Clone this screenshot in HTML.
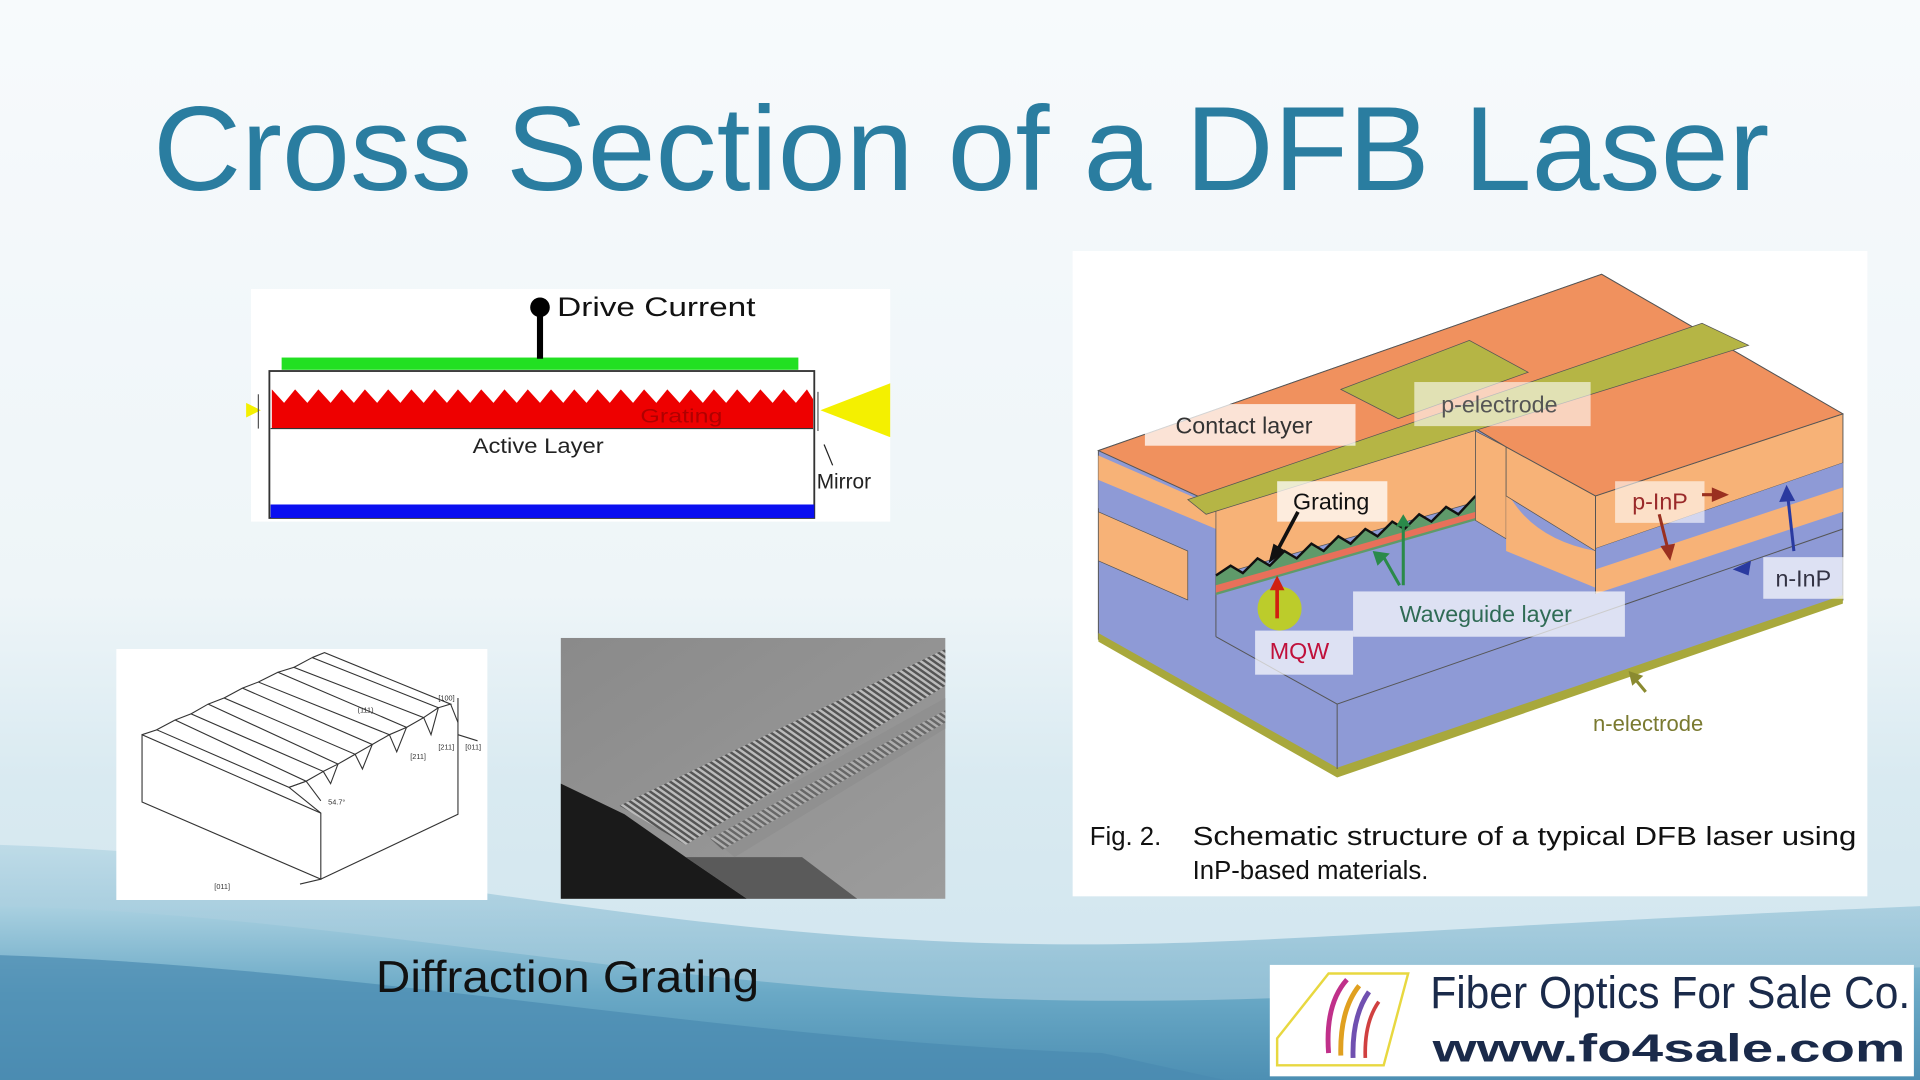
<!DOCTYPE html>
<html><head><meta charset="utf-8"><style>
html,body{margin:0;padding:0;width:1920px;height:1080px;overflow:hidden;background:#f3f8fb}
svg{display:block}
text{font-family:"Liberation Sans",sans-serif}
</style></head><body>
<svg width="1920" height="1080" viewBox="0 0 1568 882" preserveAspectRatio="none" xmlns="http://www.w3.org/2000/svg">
<defs>
<linearGradient id="bg" x1="0" y1="0" x2="0" y2="1">
<stop offset="0" stop-color="#f7fafc"/><stop offset="0.55" stop-color="#eef5f8"/><stop offset="0.72" stop-color="#d9eaf1"/><stop offset="1" stop-color="#cfe4ee"/>
</linearGradient>
<linearGradient id="wave" x1="0" y1="0" x2="0" y2="1">
<stop offset="0" stop-color="#a9d0e0"/><stop offset="0.5" stop-color="#6aa9c6"/><stop offset="1" stop-color="#4d8fb3"/>
</linearGradient>
<linearGradient id="sem" x1="0" y1="0" x2="1" y2="1">
<stop offset="0" stop-color="#8a8a8a"/><stop offset="1" stop-color="#9c9c9c"/>
</linearGradient>
<pattern id="stripes" width="4" height="4" patternUnits="userSpaceOnUse" patternTransform="rotate(-55)">
<rect width="4" height="4" fill="#555"/><rect width="2" height="4" fill="#bbb"/>
</pattern>
</defs>
<rect width="1568" height="882" fill="url(#bg)"/>
<path d="M0 690 C300 700 500 760 800 770 C1000 776 1100 760 1568 740 L1568 882 L0 882 Z" fill="url(#wave)" opacity="0.55"/>
<path d="M0 740 C250 745 500 800 800 815 C1050 825 1250 800 1568 790 L1568 882 L0 882 Z" fill="url(#wave)"/>
<path d="M0 780 C300 790 600 850 900 860 L1000 882 L0 882 Z" fill="#4a8ab0" opacity="0.7"/>

<text x="125" y="155" font-size="98" fill="#2a7da0" textLength="1320" lengthAdjust="spacingAndGlyphs">Cross Section of a DFB Laser</text>

<!-- Drive current panel -->
<rect x="205" y="236" width="522" height="190" fill="#fff"/>
<rect x="230" y="292" width="422" height="10" fill="#22e022"/>
<line x1="441" y1="255" x2="441" y2="293" stroke="#000" stroke-width="5"/>
<circle cx="441" cy="251" r="8" fill="#000"/>
<text x="455" y="258" font-size="22" fill="#111" textLength="162" lengthAdjust="spacingAndGlyphs">Drive Current</text>
<rect x="220" y="303" width="445" height="120" fill="none" stroke="#333" stroke-width="1.5"/>
<path d="M222 318 L232 329 L241 318 L251 329 L260 318 L270 329 L279 318 L289 329 L298 318 L308 329 L317 318 L327 329 L336 318 L346 329 L355 318 L365 329 L374 318 L384 329 L393 318 L403 329 L412 318 L422 329 L431 318 L441 329 L450 318 L460 329 L469 318 L479 329 L488 318 L498 329 L507 318 L517 329 L526 318 L536 329 L545 318 L555 329 L564 318 L574 329 L583 318 L593 329 L602 318 L612 329 L621 318 L631 329 L640 318 L650 329 L659 318 L664 326 L664 350 L222 350 Z" fill="#ee0000"/>
<line x1="221" y1="350" x2="664" y2="350" stroke="#333"/>
<text x="523" y="345" font-size="16" fill="#b00000" textLength="67" lengthAdjust="spacingAndGlyphs">Grating</text>
<text x="386" y="370" font-size="17" fill="#222" textLength="107" lengthAdjust="spacingAndGlyphs">Active Layer</text>
<rect x="221" y="412" width="444" height="11" fill="#0a0ff0"/>
<polygon points="670,335 727,313 727,357" fill="#f4f000"/>
<line x1="668" y1="320" x2="668" y2="352" stroke="#555"/>
<polygon points="201,329 213,335 201,341" fill="#f4f000"/>
<line x1="211" y1="322" x2="211" y2="350" stroke="#555"/>
<line x1="673" y1="363" x2="680" y2="380" stroke="#222"/>
<text x="667" y="399" font-size="17" fill="#222">Mirror</text>

<!-- grating drawing -->
<rect x="95" y="530" width="303" height="205" fill="#fff"/>
<g fill="none" stroke="#333" stroke-width="0.9">
<path d="M116 600 L116 655 L262 718 L262 664 Z"/>
<path d="M262 718 L374 665 L374 610"/>
<path d="M116 600 L128 596 L236 643 L262 664"/>
<path d="M128 596 L143 588 L250 638 L236 643"/>
<path d="M143 588 L156 583 L264 630 L250 638 L262 654"/>
<path d="M156 583 L170 575 L276 624 L264 630"/>
<path d="M170 575 L183 570 L290 616 L276 624"/>
<path d="M183 570 L198 562 L304 608 L290 616"/>
<path d="M198 562 L211 557 L318 600 L304 608"/>
<path d="M211 557 L227 549 L332 594 L318 600"/>
<path d="M227 549 L240 545 L346 586 L332 594"/>
<path d="M240 545 L255 537 L358 578 L346 586"/>
<path d="M255 537 L265 533 L368 575 L358 578"/>
<path d="M236 643 L250 638 M264 630 L270 640 L276 624 M290 616 L296 628 L304 608 M318 600 L324 614 L332 594 M346 586 L352 600 L358 578 M368 575 L374 590"/>
<path d="M374 610 L374 570 M374 600 L390 605 M262 718 L245 722"/>
</g>
<g font-size="6" fill="#333"><text x="358" y="572">[100]</text><text x="380" y="612">[011]</text><text x="292" y="582">(111)</text><text x="335" y="620">[211]</text><text x="358" y="612">[211]</text><text x="268" y="657">54.7°</text><text x="175" y="726">[011]</text></g>

<!-- SEM photo -->
<rect x="458" y="521" width="314" height="213" fill="url(#sem)"/>
<polygon points="458,640 510,665 560,700 610,734 458,734" fill="#1a1a1a"/>
<polygon points="560,700 610,734 700,734 655,700" fill="#5a5a5a"/>
<polygon points="506,658 772,530 772,560 560,690" fill="url(#stripes)"/>
<polygon points="575,680 772,570 772,595 600,700" fill="#8f8f8f" opacity="0.9"/>
<polygon points="580,685 772,580 772,590 590,694" fill="url(#stripes)" opacity="0.7"/>

<text x="307" y="810" font-size="36" fill="#111" textLength="313" lengthAdjust="spacingAndGlyphs">Diffraction Grating</text>

<!-- Right figure panel -->
<rect x="876" y="205" width="649" height="527" fill="#fff"/>
<polygon points="897,368 1308,224 1505,338 1505,490 1092,632 897,522" fill="#8e9ad6" stroke="#555" stroke-width="0.8"/>
<polygon points="897,517 1092,627 1505,486 1505,493 1092,635 897,524" fill="#a8a83c"/>
<line x1="1092" y1="575" x2="1092" y2="628" stroke="#555" stroke-width="0.8"/>
<path d="M993 520 L1092 575 L1505 432" fill="none" stroke="#555" stroke-width="0.8"/>
<line x1="993" y1="470" x2="993" y2="520" stroke="#555" stroke-width="0.8"/>
<polygon points="897,372 993,414 993,432 897,392" fill="#f7b277"/>
<polygon points="897,392 993,432 993,445 897,415" fill="#8e9ad6"/>
<polygon points="897,418 970,450 970,490 897,458" fill="#f7b277" stroke="#555" stroke-width="0.6"/>
<polygon points="993,412 1205,350 1205,410 993,470" fill="#f7b277" stroke="#555" stroke-width="0.6"/>
<path d="M993 470 L1005 462 L1015 468 L1027 456 L1037 462 L1049 450 L1059 456 L1071 444 L1081 450 L1093 438 L1103 444 L1115 432 L1125 438 L1137 426 L1147 432 L1159 420 L1169 426 L1181 414 L1191 420 L1205 405 L1205 425 L993 486 Z" fill="#5f9a6a"/>
<path d="M993 470 L1005 462 L1015 468 L1027 456 L1037 462 L1049 450 L1059 456 L1071 444 L1081 450 L1093 438 L1103 444 L1115 432 L1125 438 L1137 426 L1147 432 L1159 420 L1169 426 L1181 414 L1191 420 L1205 405" fill="none" stroke="#111" stroke-width="2"/>
<polygon points="993,478 1205,418 1205,423 993,484" fill="#e8705a"/>
<polygon points="1205,352 1230,365 1230,440 1205,425" fill="#f7b277" stroke="#555" stroke-width="0.6"/>
<path d="M1230 400 Q1250 440 1303 450 L1303 480 L1230 450 Z" fill="#f7b277"/>
<polygon points="1230,365 1303,405 1303,450 1230,405" fill="#f7b277" stroke="#555" stroke-width="0.6"/>
<polygon points="1303,405 1505,338 1505,378 1303,448" fill="#f7b277" stroke="#555" stroke-width="0.6"/>
<polygon points="1303,448 1505,378 1505,398 1303,465" fill="#8e9ad6"/>
<polygon points="1303,465 1505,398 1505,418 1303,485" fill="#f7b277"/>
<line x1="1303" y1="405" x2="1303" y2="485" stroke="#555" stroke-width="0.8"/>
<polygon points="897,368 1308,224 1505,338 1303,405 1230,365 1205,350 993,412" fill="#f0915e" stroke="#555" stroke-width="0.8"/>
<polygon points="970,408 985,420 1428,282 1390,264" fill="#b5b545" stroke="#555" stroke-width="0.6"/>
<polygon points="1095,318 1200,278 1248,304 1142,342" fill="#b5b545" stroke="#555" stroke-width="0.6"/>
<rect x="935" y="330" width="172" height="34" fill="#fff" opacity="0.75"/>
<text x="960" y="354" font-size="19" fill="#333">Contact layer</text>
<rect x="1155" y="312" width="144" height="36" fill="#fff" opacity="0.6"/>
<text x="1177" y="337" font-size="19" fill="#555">p-electrode</text>
<rect x="1043" y="393" width="90" height="33" fill="#fff" opacity="0.75"/>
<text x="1056" y="416" font-size="19" fill="#111">Grating</text>
<line x1="1060" y1="418" x2="1043" y2="450" stroke="#111" stroke-width="3"/>
<polygon points="1036,460 1040,444 1050,450" fill="#111"/>
<rect x="1105" y="483" width="222" height="37" fill="#fff" opacity="0.7"/>
<text x="1143" y="508" font-size="19" fill="#2f6b55">Waveguide layer</text>
<path d="M1143 478 L1130 455 M1146 478 L1146 425" stroke="#2a8a4a" stroke-width="2.5" fill="none"/>
<polygon points="1121,450 1135,452 1125,462" fill="#2a8a4a"/>
<polygon points="1140,430 1146,420 1152,430" fill="#2a8a4a"/>
<circle cx="1045" cy="497" r="18" fill="#c8d800" opacity="0.8"/>
<line x1="1043" y1="505" x2="1043" y2="478" stroke="#d02010" stroke-width="3"/>
<polygon points="1037,482 1043,470 1049,482" fill="#d02010"/>
<rect x="1025" y="515" width="80" height="36" fill="#fff" opacity="0.7"/>
<text x="1037" y="538" font-size="19" fill="#c0103a">MQW</text>
<rect x="1319" y="393" width="73" height="34" fill="#fff" opacity="0.6"/>
<text x="1333" y="416" font-size="19" fill="#9a2a2a">p-InP</text>
<path d="M1390 404 L1402 404 M1355 420 L1362 448" stroke="#9a3020" stroke-width="2.5"/>
<polygon points="1398,398 1412,404 1398,410" fill="#9a3020"/>
<polygon points="1356,446 1364,458 1368,444" fill="#9a3020"/>
<rect x="1440" y="455" width="66" height="34" fill="#fff" opacity="0.7"/>
<text x="1450" y="479" font-size="19" fill="#334">n-InP</text>
<line x1="1465" y1="450" x2="1460" y2="405" stroke="#2a3aa0" stroke-width="2.5"/>
<polygon points="1453,410 1459,396 1466,409" fill="#2a3aa0"/>
<polygon points="1415,465 1430,458 1428,470" fill="#2a3aa0"/>
<line x1="1344" y1="565" x2="1334" y2="553" stroke="#8a8a30" stroke-width="2.5"/>
<polygon points="1330,548 1342,552 1333,560" fill="#8a8a30"/>
<text x="1301" y="597" font-size="18" fill="#7a7a30">n-electrode</text>
<text x="890" y="690" font-size="21" fill="#111">Fig. 2.</text>
<text x="974" y="690" font-size="21" fill="#111" textLength="542" lengthAdjust="spacingAndGlyphs">Schematic structure of a typical DFB laser using</text>
<text x="974" y="718" font-size="21" fill="#111">InP-based materials.</text>

<!-- logo -->
<rect x="1037" y="788" width="526" height="91" fill="#fff"/>
<polygon points="1043,848 1085,795 1150,795 1130,870 1043,870" fill="none" stroke="#e8d840" stroke-width="2"/>
<path d="M1085 860 Q1082 820 1100 800" stroke="#c0308a" stroke-width="4" fill="none"/>
<path d="M1095 862 Q1094 825 1110 805" stroke="#e0a020" stroke-width="4" fill="none"/>
<path d="M1105 864 Q1104 830 1118 810" stroke="#7050b0" stroke-width="4" fill="none"/>
<path d="M1115 864 Q1114 835 1126 818" stroke="#d04040" stroke-width="3" fill="none"/>
<text x="1168" y="823" font-size="37" fill="#1a2a4a" textLength="392" lengthAdjust="spacingAndGlyphs">Fiber Optics For Sale Co.</text>
<text x="1170" y="867" font-size="32" font-weight="bold" fill="#1a2a4a" textLength="386" lengthAdjust="spacingAndGlyphs">www.fo4sale.com</text>
</svg>
</body></html>
